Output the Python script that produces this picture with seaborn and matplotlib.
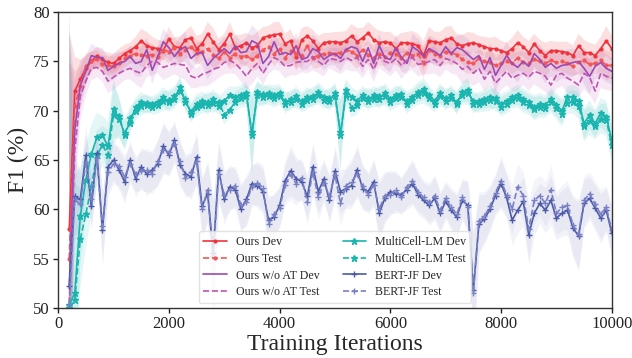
import numpy as np
import pandas as pd
import matplotlib
matplotlib.use("Agg")
import matplotlib.pyplot as plt
import seaborn as sns

iters = list(range(200, 10001, 100))

ours_dev = [58.0, 72.0, 73.2, 74.3, 75.0, 75.6, 75.2, 74.9, 74.8,
            75.3, 75.8, 76.1, 76.5, 77.1, 76.6, 76.4, 76.3, 76.1, 77.3,
            76.5, 76.4, 77.2, 77.4, 76.3, 76.8, 77.8, 77.0, 76.2, 76.8,
            77.8, 76.4, 76.6, 76.9, 76.4, 76.6, 77.4, 77.6, 77.7, 77.8,
            76.8, 77.1, 75.5, 77.2, 77.6, 77.1, 76.3, 76.9, 77.0, 77.0,
            76.9, 77.1, 77.6, 77.0, 77.4, 77.9, 77.2, 76.9, 77.0, 76.9,
            76.3, 76.9, 76.9, 76.8, 76.6, 75.6, 77.1, 77.0, 76.9, 77.2,
            77.4, 76.8, 76.6, 76.8, 76.9, 76.7, 76.5, 76.3, 76.3, 76.1,
            75.9, 76.3, 76.9, 76.5, 75.9, 76.8, 76.1, 75.6, 76.1, 76.1,
            76.0, 75.9, 75.6, 76.6, 75.9, 75.9, 75.6, 76.3, 77.1, 76.3]
ours_test = [55.0, 70.5, 72.5, 74.5, 75.0, 75.2, 74.7, 74.6, 74.5,
             74.8, 75.3, 75.6, 75.8, 75.7, 75.6, 75.7, 75.5, 76.2, 76.0,
             76.4, 75.8, 76.2, 76.5, 75.9, 76.0, 76.3, 75.7, 75.3, 76.0,
             75.4, 75.8, 75.5, 75.6, 75.2, 75.6, 76.2, 76.5, 75.8, 76.3,
             75.4, 76.1, 75.8, 75.6, 76.6, 75.4, 75.6, 75.8, 75.9, 75.8,
             75.9, 76.2, 76.0, 75.6, 76.2, 75.7, 75.4, 75.8, 75.5, 75.9,
             75.8, 75.3, 75.9, 75.6, 75.8, 74.8, 76.2, 75.8, 75.6, 76.0,
             75.9, 75.7, 75.2, 74.9, 74.8, 75.3, 75.0, 74.9, 74.6, 74.8,
             75.0, 74.8, 75.4, 74.9, 74.8, 75.2, 75.0, 74.8, 75.1, 74.9,
             75.0, 74.8, 74.5, 74.9, 75.1, 74.7, 74.8, 75.1, 74.6, 74.6]
woat_dev = [52.0, 68.0, 72.6, 74.0, 75.6, 75.4, 75.4, 74.1, 74.5,
            74.8, 75.0, 75.5, 74.8, 75.0, 76.2, 74.1, 75.5, 77.0, 76.4,
            75.5, 76.2, 76.5, 75.3, 75.8, 75.9, 74.6, 75.3, 75.8, 76.3,
            75.8, 76.6, 75.9, 76.0, 77.1, 76.8, 74.8, 75.5, 77.0, 75.7,
            75.9, 75.7, 76.6, 75.2, 75.4, 76.3, 76.0, 75.2, 75.6, 75.8,
            75.3, 76.2, 76.5, 76.3, 75.0, 76.4, 74.8, 76.6, 75.4, 75.2,
            76.4, 75.4, 74.8, 76.5, 76.1, 75.5, 76.3, 76.0, 75.6, 76.5,
            75.8, 76.4, 76.2, 75.7, 75.2, 75.6, 74.2, 75.4, 73.6, 74.6,
            75.6, 74.8, 74.4, 75.0, 74.5, 75.8, 75.2, 74.4, 74.8, 74.3,
            74.6, 74.7, 74.9, 75.0, 74.3, 73.5, 74.5, 74.9, 74.3, 74.0]
woat_test = [50.5, 66.0, 71.5, 73.0, 74.3, 74.4, 74.0, 73.0, 73.4,
             73.8, 74.1, 74.3, 74.0, 73.8, 74.6, 75.0, 74.9, 74.4, 74.6,
             74.8, 74.7, 74.6, 73.5, 73.3, 73.7, 73.9, 74.2, 74.4, 74.9,
             75.1, 74.8, 74.2, 73.5, 74.3, 74.8, 73.8, 74.7, 75.4, 75.1,
             74.5, 74.6, 74.9, 75.0, 75.0, 75.5, 75.0, 74.6, 75.3, 75.2,
             75.0, 75.4, 75.1, 75.4, 74.5, 75.2, 74.2, 75.5, 75.0, 74.8,
             75.3, 74.6, 75.1, 75.4, 74.7, 74.8, 75.0, 75.2, 74.6, 75.3,
             75.1, 74.8, 74.2, 74.5, 73.8, 74.3, 73.2, 74.0, 72.8, 73.4,
             74.0, 73.3, 73.6, 73.8, 73.4, 74.0, 73.8, 73.5, 72.6, 73.6,
             73.8, 73.3, 73.0, 72.6, 73.8, 73.4, 72.0, 73.8, 73.5, 73.3]
mc_dev = [50.3, 51.5, 59.3, 63.0, 65.6, 67.3, 67.5, 66.4, 70.2,
          69.2, 67.7, 68.8, 70.4, 70.9, 70.6, 70.7, 70.9, 71.4, 70.9,
          71.2, 72.4, 70.9, 69.9, 70.7, 71.0, 70.6, 71.2, 70.5, 71.0,
          71.6, 71.4, 71.6, 71.8, 67.5, 71.9, 71.4, 71.8, 71.6, 71.8,
          70.7, 71.2, 71.2, 71.0, 71.4, 71.2, 71.9, 71.4, 71.0, 71.8,
          67.5, 72.1, 71.4, 71.0, 71.6, 71.0, 71.6, 71.2, 71.8, 71.2,
          71.6, 71.4, 71.0, 71.4, 71.9, 72.2, 71.6, 71.0, 71.8, 71.0,
          71.6, 70.7, 71.9, 72.1, 70.7, 71.0, 71.2, 71.4, 71.0, 70.7,
          71.0, 71.4, 71.6, 71.2, 70.9, 70.4, 70.7, 70.6, 71.2, 70.6,
          70.0, 71.4, 71.4, 71.0, 68.7, 69.6, 68.7, 69.8, 69.4, 67.0]
mc_test = [50.0, 50.8, 57.0, 59.5, 62.3, 65.5, 66.5, 65.5, 69.6,
           69.5, 67.5, 69.3, 70.0, 70.5, 70.8, 70.4, 70.6, 71.0, 71.1,
           71.5, 72.0, 71.2, 69.7, 70.4, 70.6, 70.9, 70.8, 70.9, 69.6,
           70.1, 70.9, 71.3, 71.5, 67.8, 71.6, 71.7, 71.5, 71.3, 71.5,
           71.0, 70.9, 71.5, 70.7, 71.1, 71.5, 71.6, 71.1, 71.3, 71.5,
           67.8, 71.7, 70.3, 70.6, 71.3, 71.3, 71.2, 71.5, 71.5, 70.9,
           71.3, 71.7, 70.7, 71.1, 71.6, 71.8, 71.3, 70.7, 71.5, 71.3,
           71.3, 70.9, 71.6, 71.8, 71.0, 70.7, 70.9, 71.1, 71.3, 70.4,
           70.7, 71.1, 71.3, 70.9, 70.6, 70.2, 70.4, 70.3, 70.9, 70.3,
           69.7, 70.8, 70.9, 70.5, 68.5, 69.0, 68.5, 69.2, 69.1, 66.5]
bert_dev = [52.2, 61.3, 61.0, 65.5, 60.3, 65.7, 57.9, 64.3, 65.0,
            64.0, 62.8, 65.0, 63.1, 64.3, 63.6, 64.0, 64.6, 66.4, 65.5,
            67.0, 64.5, 63.6, 63.3, 65.3, 60.3, 61.6, 55.6, 64.0, 61.0,
            62.3, 62.0, 60.0, 61.0, 62.6, 62.4, 61.8, 58.9, 59.2, 60.4,
            62.9, 63.9, 63.1, 62.8, 61.3, 64.3, 61.8, 63.1, 60.9, 63.9,
            61.8, 62.1, 62.4, 64.0, 62.1, 61.8, 62.8, 59.6, 61.1, 61.8,
            61.6, 61.5, 62.0, 62.6, 61.5, 60.9, 60.4, 61.1, 59.6, 60.8,
            59.9, 59.2, 60.9, 60.4, 51.8, 58.5, 59.0, 60.0, 61.4, 62.6,
            61.2, 58.9, 59.9, 60.8, 57.4, 59.6, 60.6, 59.9, 60.9, 59.1,
            59.6, 59.9, 58.1, 57.3, 60.6, 61.1, 60.1, 59.1, 59.9, 57.6]
bert_test = [50.3, 61.0, 60.5, 64.8, 61.0, 65.2, 58.3, 63.8, 64.6,
             64.4, 63.3, 64.6, 63.6, 63.9, 64.0, 63.6, 64.9, 66.0, 65.8,
             66.6, 64.9, 63.2, 63.8, 64.9, 60.0, 62.0, 55.3, 63.6, 61.5,
             62.0, 62.4, 60.4, 60.7, 62.3, 62.7, 62.2, 58.5, 59.5, 60.1,
             62.5, 63.5, 62.6, 63.2, 60.7, 63.8, 61.2, 62.7, 61.3, 63.5,
             60.6, 62.4, 62.8, 63.6, 62.4, 61.5, 62.5, 60.0, 61.4, 61.5,
             62.0, 61.2, 62.3, 62.9, 61.8, 61.2, 60.7, 61.4, 59.9, 61.1,
             60.2, 59.5, 61.2, 60.2, 51.5, 58.8, 59.3, 60.3, 61.7, 62.9,
             61.5, 60.0, 62.3, 61.4, 58.0, 60.9, 61.4, 60.6, 62.0, 59.6,
             60.2, 60.4, 58.4, 57.5, 60.9, 61.6, 60.5, 59.5, 60.2, 57.9]

# half-widths of the shaded bands
band_ours = [20, 3.5, 2.0, 1.3, 1.0, 0.9, 0.9, 1.0, 1.0,
             1.0, 0.9, 0.8, 1.0, 1.2, 1.4, 1.1, 0.9, 1.0, 1.2,
             1.0, 1.1, 0.9, 1.2, 1.3, 1.0, 1.2, 1.4, 1.1, 1.0,
             1.2, 1.3, 1.1, 1.0, 1.2, 1.4, 1.1, 1.0, 1.3, 1.2,
             1.0, 1.2, 1.5, 1.2, 1.0, 1.1, 1.3, 1.0, 0.9, 1.0,
             1.1, 1.0, 1.2, 1.4, 1.0, 1.1, 1.3, 1.2, 1.0, 1.1,
             1.2, 1.0, 1.1, 1.3, 1.2, 1.5, 1.4, 1.0, 1.1, 1.3,
             1.2, 1.0, 1.1, 1.2, 1.0, 0.9, 1.0, 1.1, 1.2, 1.0,
             1.0, 1.1, 1.3, 1.0, 1.2, 1.0, 1.1, 1.3, 1.0, 0.9,
             1.0, 1.1, 1.0, 1.2, 1.3, 1.0, 1.1, 1.2, 1.5, 1.3]
band_woat = [26, 5, 2.5, 1.5, 1.2, 1.0, 1.0, 1.2, 1.3,
             1.2, 1.0, 1.1, 1.3, 1.5, 1.2, 1.4, 1.1, 1.3, 1.2,
             1.1, 1.3, 1.5, 1.2, 1.0, 1.2, 1.4, 1.3, 1.1, 1.2,
             1.3, 1.1, 1.2, 1.4, 1.6, 1.3, 1.2, 1.0, 1.2, 1.1,
             1.2, 1.0, 1.3, 1.1, 1.2, 1.4, 1.2, 1.1, 1.0, 1.2,
             1.3, 1.2, 1.1, 1.4, 1.2, 1.0, 1.3, 1.2, 1.1, 1.3,
             1.2, 1.4, 1.1, 1.3, 1.2, 1.1, 1.3, 1.4, 1.2, 1.1,
             1.3, 1.2, 1.5, 1.6, 1.3, 1.4, 1.2, 1.5, 1.7, 1.3,
             1.4, 1.3, 1.5, 1.2, 1.4, 1.3, 1.5, 1.6, 1.3, 1.4,
             1.3, 1.5, 1.4, 1.2, 1.6, 1.8, 1.3, 1.5, 1.4, 1.3]
band_mc = [30, 12, 5, 3.5, 3.0, 2.5, 2.0, 2.5, 3.0,
           2.0, 1.5, 1.2, 1.0, 1.0, 0.9, 0.8, 0.9, 1.0, 1.0,
           1.0, 1.2, 1.0, 0.9, 1.0, 0.9, 1.0, 1.0, 0.9, 1.0,
           0.9, 1.0, 1.0, 1.1, 4.0, 1.2, 1.0, 0.9, 1.0, 0.9,
           1.0, 0.9, 1.0, 0.9, 1.0, 0.9, 1.0, 0.9, 1.0, 1.1,
           3.5, 1.2, 1.0, 1.0, 0.9, 1.0, 0.9, 1.0, 1.0, 0.9,
           1.0, 0.9, 1.0, 0.9, 1.0, 1.1, 1.0, 0.9, 1.0, 1.0,
           1.0, 1.1, 1.0, 1.2, 1.0, 0.9, 1.0, 1.1, 1.0, 1.0,
           1.0, 0.9, 1.0, 1.1, 1.0, 1.2, 1.1, 1.0, 1.1, 1.2,
           1.3, 1.1, 1.2, 1.3, 1.6, 1.5, 1.4, 1.5, 1.6, 1.8]
band_bert = [6, 4, 3, 3, 2.5, 2.5, 3.5, 2.5, 2.0,
             2.0, 2.2, 2.0, 1.8, 2.0, 2.2, 2.0, 2.3, 2.5, 2.2,
             2.0, 2.2, 2.0, 2.3, 2.5, 3.0, 3.0, 5.5, 3.0, 2.5,
             2.2, 2.0, 2.3, 2.5, 2.0, 2.2, 2.3, 2.5, 2.2, 2.0,
             2.0, 2.5, 2.2, 2.0, 2.3, 2.5, 2.2, 2.0, 2.3, 2.5,
             2.2, 2.0, 2.3, 2.5, 2.2, 2.0, 2.3, 3.0, 2.5, 2.2,
             2.0, 1.8, 2.0, 2.2, 2.0, 1.8, 2.0, 2.2, 2.0, 1.8,
             2.0, 2.2, 2.0, 2.5, 6.0, 3.0, 2.5, 2.2, 2.0, 2.5,
             2.2, 2.5, 2.3, 2.5, 3.0, 2.2, 2.0, 2.3, 2.5, 2.2,
             2.3, 2.5, 3.0, 3.5, 2.5, 2.2, 2.3, 2.5, 2.2, 2.5]

series = [
    ("Ours Dev", ours_dev, band_ours, "#f0323c", "-", ".", 4, 0.15),
    ("Ours Test", ours_test, band_ours, "#f55555", "--", ".", 4, 0.15),
    ("Ours w/o AT Dev", woat_dev, band_woat, "#9b4ab4", "-", None, 0, 0.13),
    ("Ours w/o AT Test", woat_test, band_woat, "#c052b0", "--", None, 0, 0.13),
    ("MultiCell-LM Dev", mc_dev, band_mc, "#1bb5b0", "-", "*", 5, 0.11),
    ("MultiCell-LM Test", mc_test, band_mc, "#1bb5b0", "--", "*", 5, 0.11),
    ("BERT-JF Dev", bert_dev, band_bert, "#4b5aa8", "-", "+", 5, 0.07),
    ("BERT-JF Test", bert_test, band_bert, "#7a80c4", "--", "+", 5, 0.08),
]

sns.set_style("ticks")
plt.rcParams["font.family"] = ["Liberation Serif", "DejaVu Serif"]

fig, ax = plt.subplots(figsize=(6.32, 3.58), dpi=100)
fig.subplots_adjust(left=0.092, right=0.968, top=0.966, bottom=0.14)

x = np.array(iters)
for name, vals, band, color, ls, mk, ms, al in series:
    v = np.array(vals)
    b = np.array(band)
    ax.fill_between(x, v - b, v + b, color=color, alpha=al, lw=0)

for name, vals, band, color, ls, mk, ms, al in series:
    kw = dict(marker=mk, markersize=ms, markeredgewidth=1.0,
              markeredgecolor=color, markerfacecolor=color) if mk else {}
    sns.lineplot(x=iters, y=vals, ax=ax, color=color, linestyle=ls,
                 linewidth=1.2, label=name, **kw)

ax.set_xlim(0, 10000)
ax.set_ylim(50, 80)
ax.set_xticks([0, 2000, 4000, 6000, 8000, 10000])
ax.set_yticks([50, 55, 60, 65, 70, 75, 80])
ax.tick_params(axis="both", labelsize=12, length=3.5, width=1, direction="out",
               colors="#222222", pad=2.5)
for s in ax.spines.values():
    s.set_color("#333333")
    s.set_linewidth(1.0)
ax.set_xlabel("Training Iterations", fontsize=17, labelpad=1)
ax.set_ylabel("F1 (%)", fontsize=17, labelpad=3)

leg = ax.legend(loc="lower center", ncol=2, fontsize=8.6, frameon=True,
                handlelength=1.95, columnspacing=1.9, labelspacing=0.4,
                borderaxespad=0.4)
leg.get_frame().set_edgecolor("#dddddd")

fig.savefig("out.png", dpi=100)
